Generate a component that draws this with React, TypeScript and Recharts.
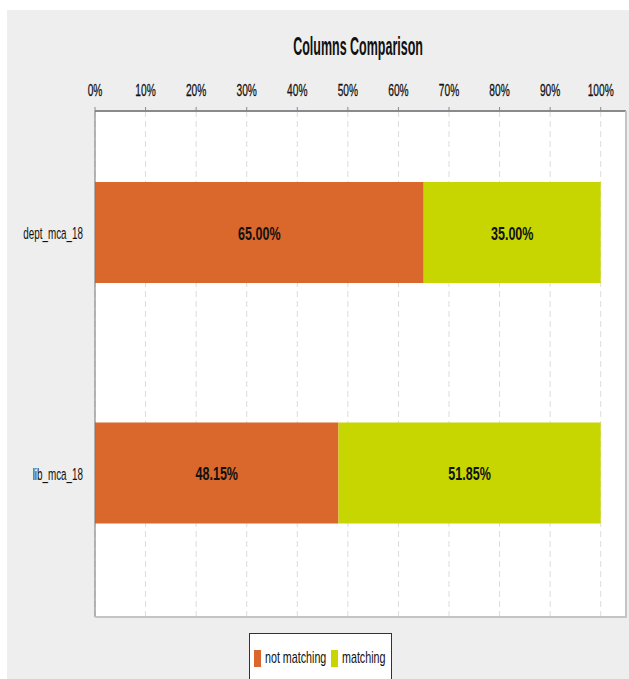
import React from "react";
import {
  BarChart,
  Bar,
  XAxis,
  YAxis,
  CartesianGrid,
  LabelList,
} from "recharts";

// Share of rows per column group, in percent
const columns = ["dept_mca_18", "lib_mca_18"];
const notMatching = [65.0, 48.15];
const matching = [35.0, 51.85];
const percentTicks = [0, 10, 20, 30, 40, 50, 60, 70, 80, 90, 100];

const data = columns.map((name, i) => ({
  name,
  notMatching: notMatching[i],
  matching: matching[i],
}));

const ORANGE = "#DA672C";
const LIME = "#C7D600";
const FONT = "'Liberation Sans', Arial, sans-serif";

// narrow text, squeezed horizontally around its anchor
const squeeze = (x: number, y: number, sx: number) =>
  `translate(${x},${y}) scale(${sx},1)`;

const PercentTick = (props: any) => {
  const { x, y, payload } = props;
  return (
    <text
      transform={squeeze(x, y, 0.6)}
      textAnchor="middle"
      fontFamily={FONT}
      fontSize={17}
      fill="#111"
      stroke="#111"
      strokeWidth={0.3}
    >
      {`${payload.value}%`}
    </text>
  );
};

const ColumnTick = (props: any) => {
  const { x, y, payload } = props;
  return (
    <text
      transform={squeeze(x, y + 7, 0.58)}
      textAnchor="end"
      fontFamily={FONT}
      fontSize={17}
      fill="#111"
    >
      {payload.value}
    </text>
  );
};

const ValueLabel = (props: any) => {
  const { x, y, width, height, value } = props;
  return (
    <text
      transform={squeeze(x + width / 2, y + height / 2 + 7, 0.66)}
      textAnchor="middle"
      fontFamily={FONT}
      fontWeight="bold"
      fontSize={19}
      fill="#111"
    >
      {`${Number(value).toFixed(2)}%`}
    </text>
  );
};

const LegendItem = ({ color, label }: { color: string; label: string }) => (
  <div style={{ display: "flex", alignItems: "center", marginRight: 5 }}>
    <div style={{ width: 7, height: 17, background: color, marginRight: 4 }} />
    <span
      style={{
        display: "inline-block",
        fontFamily: FONT,
        fontSize: 17,
        color: "#111",
        transform: "scaleX(0.63)",
        transformOrigin: "left center",
        width: label.length * 5.1,
        whiteSpace: "nowrap",
      }}
    >
      {label}
    </span>
  </div>
);

export default function App() {
  return (
    <div
      style={{
        position: "fixed",
        left: 0,
        top: 0,
        width: 629,
        height: 679,
        background: "#fff",
        overflow: "hidden",
      }}
    >
      <div
        style={{
          position: "absolute",
          left: 7,
          top: 10,
          width: 630,
          height: 680,
          background: "#EEEEEE",
        }}
      />
      <div
        style={{
          position: "absolute",
          left: 0,
          top: 31,
          width: 629,
          textAlign: "center",
        }}
      >
        <span
          style={{
            display: "inline-block",
            marginLeft: 88,
            fontFamily: FONT,
            fontWeight: "bold",
            fontSize: 26,
            color: "#111",
            transform: "scaleX(0.48)",
            whiteSpace: "nowrap",
          }}
        >
          Columns Comparison
        </span>
      </div>
      <div style={{ position: "absolute", left: 0, top: 0 }}>
        <BarChart
          width={629}
          height={679}
          data={data}
          layout="vertical"
          margin={{ top: 81, right: 3, bottom: 62, left: 0 }}
        >
          <CartesianGrid
            horizontal={false}
            fill="#fff"
            stroke="#dcdcdc"
            strokeDasharray="6 4"
          />
          <XAxis
            type="number"
            orientation="top"
            domain={[0, 105]}
            ticks={percentTicks}
            height={30}
            tickSize={4}
            tickMargin={11}
            axisLine={{ stroke: "#8a8a8a", strokeWidth: 2 }}
            tickLine={{ stroke: "#8a8a8a" }}
            tick={<PercentTick />}
            allowDataOverflow
          />
          <YAxis
            type="category"
            dataKey="name"
            width={95}
            tickSize={0}
            tickMargin={12}
            padding={{ top: 1, bottom: 24 }}
            axisLine={{ stroke: "#777" }}
            tickLine={false}
            tick={<ColumnTick />}
          />
          <Bar
            dataKey="notMatching"
            stackId="cmp"
            fill={ORANGE}
            barSize={101}
            isAnimationActive={false}
          >
            <LabelList dataKey="notMatching" content={<ValueLabel />} />
          </Bar>
          <Bar
            dataKey="matching"
            stackId="cmp"
            fill={LIME}
            barSize={101}
            isAnimationActive={false}
          >
            <LabelList dataKey="matching" content={<ValueLabel />} />
          </Bar>
        </BarChart>
      </div>
      {/* right and bottom edge of the plot frame */}
      <div
        style={{
          position: "absolute",
          left: 95,
          top: 111,
          width: 530,
          height: 505,
          borderRight: "2px solid #c4c4c4",
          borderBottom: "2px solid #c4c4c4",
          pointerEvents: "none",
        }}
      />
      <div
        style={{
          position: "absolute",
          left: 249,
          top: 633,
          width: 143,
          height: 60,
          background: "#fff",
          border: "1px solid #333",
          display: "flex",
          alignItems: "flex-start",
          paddingTop: 14,
          paddingLeft: 4,
          boxSizing: "border-box",
        }}
      >
        <LegendItem color={ORANGE} label="not matching" />
        <LegendItem color={LIME} label="matching" />
      </div>
    </div>
  );
}
